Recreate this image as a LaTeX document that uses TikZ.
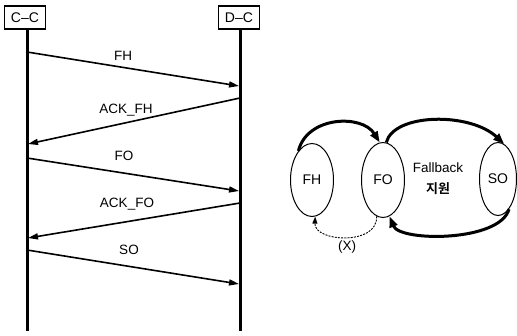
\documentclass[tikz,border=0pt]{standalone}
\usepackage{fontspec}
\setmainfont{Liberation Sans}
\newfontfamily\krfont{Noto Sans CJK KR Bold}
\usetikzlibrary{arrows.meta,shapes.geometric}
\begin{document}
\begin{tikzpicture}[x=1pt,y=-1pt,
  ent/.style={draw,line width=1.2pt,inner sep=0pt,minimum width=41pt,minimum height=23pt,font=\fontsize{14}{15}\selectfont},
  life/.style={line width=3pt},
  msg/.style={line width=1.6pt,-{Triangle[length=10pt,width=6pt]}},
  lbl/.style={font=\fontsize{13.5}{14}\selectfont,inner sep=0pt},
  st/.style={draw,ellipse,line width=1pt,inner sep=0pt,font=\fontsize{14}{15}\selectfont},
  bigarc/.style={line width=3pt,-{Triangle[length=11pt,width=8pt]}},
  thinarc/.style={line width=0.9pt,dashed,dash pattern=on 2pt off 1.2pt,-{Triangle[length=7pt,width=5pt]}}
]
\useasboundingbox (0,0) rectangle (517,335);
% entities
\node[ent] (cc) at (25,17.5) {C--C};
\node[ent] (dc) at (239,17.5) {D--C};
\coordinate (cctop) at (27,29);
\coordinate (dctop) at (240,29);
\coordinate (ccend) at (27,331);
\coordinate (dcend) at (240,331);
\draw[life] (cctop) -- (ccend);
\draw[life] (dctop) -- (dcend);
% message endpoints
\coordinate (a1) at (27,52);  \coordinate (b1) at (239,86);
\coordinate (b2) at (240,98); \coordinate (a2) at (28,144);
\coordinate (a3) at (27,158); \coordinate (b3) at (239,191);
\coordinate (b4) at (240,203);\coordinate (a4) at (28,238);
\coordinate (a5) at (27,250); \coordinate (b5) at (239,284);
\draw[msg] (a1) -- (b1);
\draw[msg] (b2) -- (a2);
\draw[msg] (a3) -- (b3);
\draw[msg] (b4) -- (a4);
\draw[msg] (a5) -- (b5);
\node[lbl] (l1) at (123,56) {FH};
\node[lbl] (l2) at (126,110) {ACK\_FH};
\node[lbl] (l3) at (124,156) {FO};
\node[lbl] (l4) at (127,204) {ACK\_FO};
\node[lbl] (l5) at (129,250) {SO};
% state diagram
\node[st,minimum width=43pt,minimum height=73pt] (fh) at (312,180) {FH};
\node[st,minimum width=43pt,minimum height=75pt] (fo) at (383,180) {FO};
\node[st,minimum width=37pt,minimum height=73pt] (so) at (498,179) {SO};
\draw[bigarc] (fh.115) .. controls (307,116) and (362,114) .. (fo.95);
\draw[bigarc] (fo.85) .. controls (394,113) and (470,112) .. (so.80);
\draw[bigarc] (so.-70) .. controls (500,242) and (400,242) .. (fo.-80);
\draw[thinarc] (fo.-100) .. controls (378,246) and (314,242) .. (fh.-85);
\node[lbl] (fb) at (438,168) {Fallback};
\node[lbl,font=\krfont\fontsize{13}{14}\selectfont] (jw) at (438,189) {지원};
\node[lbl] (x) at (347,247) {(X)};
\end{tikzpicture}
\end{document}
